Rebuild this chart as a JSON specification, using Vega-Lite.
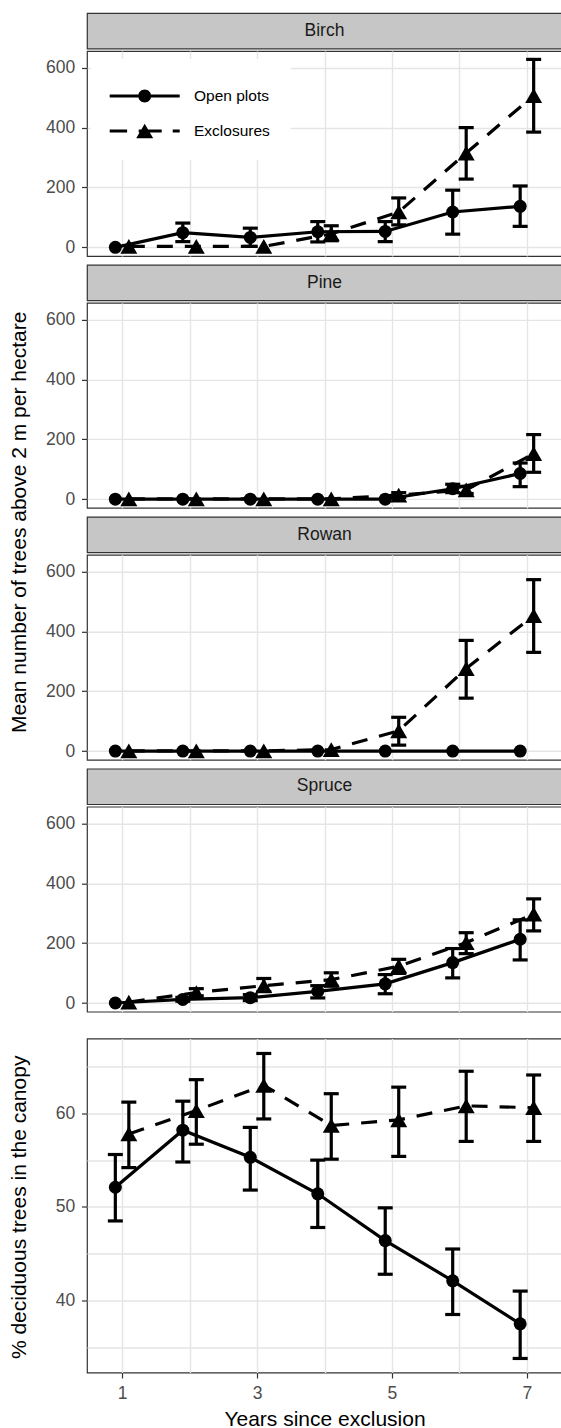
{
  "$schema": "https://vega.github.io/schema/vega-lite/v6.json",
  "padding": {"left": 8, "top": 12, "right": 0, "bottom": 0},
  "config": {
    "font": "Liberation Sans",
    "view": {"stroke": "#333333", "strokeWidth": 1.2},
    "axis": {"domain": false, "tickColor": "#333333", "tickWidth": 1.2, "tickSize": 5.5, "labelFont": "Liberation Sans", "labelFontSize": 17.5, "labelColor": "#4D4D4D", "labelPadding": 6.7, "titleFont": "Liberation Sans", "titleFontSize": 21, "titleFontWeight": "normal", "titleColor": "#000000", "gridColor": "#E5E5E5", "gridWidth": 1.4},
    "axisY": {"minExtent": 42}
  },
  "datasets": {
    "strips": [{"species": "Birch"}, {"species": "Pine"}, {"species": "Rowan"}, {"species": "Spruce"}],
    "trees": [
      {"species": "Birch", "group": "Open plots", "year": 1, "mean": 0, "lo": null, "hi": null},
      {"species": "Birch", "group": "Open plots", "year": 2, "mean": 49, "lo": 19, "hi": 81},
      {"species": "Birch", "group": "Open plots", "year": 3, "mean": 33, "lo": 3, "hi": 64},
      {"species": "Birch", "group": "Open plots", "year": 4, "mean": 52, "lo": 18, "hi": 86},
      {"species": "Birch", "group": "Open plots", "year": 5, "mean": 53, "lo": 19, "hi": 86},
      {"species": "Birch", "group": "Open plots", "year": 6, "mean": 118, "lo": 44, "hi": 191},
      {"species": "Birch", "group": "Open plots", "year": 7, "mean": 137, "lo": 70, "hi": 205},
      {"species": "Birch", "group": "Exclosures", "year": 1, "mean": 3, "lo": null, "hi": null},
      {"species": "Birch", "group": "Exclosures", "year": 2, "mean": 3, "lo": null, "hi": null},
      {"species": "Birch", "group": "Exclosures", "year": 3, "mean": 3, "lo": null, "hi": null},
      {"species": "Birch", "group": "Exclosures", "year": 4, "mean": 45, "lo": 22, "hi": 72},
      {"species": "Birch", "group": "Exclosures", "year": 5, "mean": 118, "lo": 75, "hi": 165},
      {"species": "Birch", "group": "Exclosures", "year": 6, "mean": 315, "lo": 228, "hi": 400},
      {"species": "Birch", "group": "Exclosures", "year": 7, "mean": 507, "lo": 385, "hi": 628},
      {"species": "Pine", "group": "Open plots", "year": 1, "mean": 0, "lo": null, "hi": null},
      {"species": "Pine", "group": "Open plots", "year": 2, "mean": 0, "lo": null, "hi": null},
      {"species": "Pine", "group": "Open plots", "year": 3, "mean": 0, "lo": null, "hi": null},
      {"species": "Pine", "group": "Open plots", "year": 4, "mean": 0, "lo": null, "hi": null},
      {"species": "Pine", "group": "Open plots", "year": 5, "mean": 0, "lo": null, "hi": null},
      {"species": "Pine", "group": "Open plots", "year": 6, "mean": 35, "lo": 22, "hi": 50},
      {"species": "Pine", "group": "Open plots", "year": 7, "mean": 86, "lo": 42, "hi": 121},
      {"species": "Pine", "group": "Exclosures", "year": 1, "mean": 1, "lo": null, "hi": null},
      {"species": "Pine", "group": "Exclosures", "year": 2, "mean": 1, "lo": null, "hi": null},
      {"species": "Pine", "group": "Exclosures", "year": 3, "mean": 1, "lo": null, "hi": null},
      {"species": "Pine", "group": "Exclosures", "year": 4, "mean": 1, "lo": null, "hi": null},
      {"species": "Pine", "group": "Exclosures", "year": 5, "mean": 14, "lo": 6, "hi": 22},
      {"species": "Pine", "group": "Exclosures", "year": 6, "mean": 31, "lo": 19, "hi": 43},
      {"species": "Pine", "group": "Exclosures", "year": 7, "mean": 152, "lo": 90, "hi": 216},
      {"species": "Rowan", "group": "Open plots", "year": 1, "mean": 0, "lo": null, "hi": null},
      {"species": "Rowan", "group": "Open plots", "year": 2, "mean": 0, "lo": null, "hi": null},
      {"species": "Rowan", "group": "Open plots", "year": 3, "mean": 0, "lo": null, "hi": null},
      {"species": "Rowan", "group": "Open plots", "year": 4, "mean": 0, "lo": null, "hi": null},
      {"species": "Rowan", "group": "Open plots", "year": 5, "mean": 0, "lo": null, "hi": null},
      {"species": "Rowan", "group": "Open plots", "year": 6, "mean": 0, "lo": null, "hi": null},
      {"species": "Rowan", "group": "Open plots", "year": 7, "mean": 0, "lo": null, "hi": null},
      {"species": "Rowan", "group": "Exclosures", "year": 1, "mean": 1, "lo": null, "hi": null},
      {"species": "Rowan", "group": "Exclosures", "year": 2, "mean": 1, "lo": null, "hi": null},
      {"species": "Rowan", "group": "Exclosures", "year": 3, "mean": 1, "lo": null, "hi": null},
      {"species": "Rowan", "group": "Exclosures", "year": 4, "mean": 5, "lo": null, "hi": null},
      {"species": "Rowan", "group": "Exclosures", "year": 5, "mean": 68, "lo": 20, "hi": 113},
      {"species": "Rowan", "group": "Exclosures", "year": 6, "mean": 276, "lo": 177, "hi": 370},
      {"species": "Rowan", "group": "Exclosures", "year": 7, "mean": 453, "lo": 330, "hi": 573},
      {"species": "Spruce", "group": "Open plots", "year": 1, "mean": 0, "lo": null, "hi": null},
      {"species": "Spruce", "group": "Open plots", "year": 2, "mean": 12, "lo": 6, "hi": 19},
      {"species": "Spruce", "group": "Open plots", "year": 3, "mean": 18, "lo": 8, "hi": 28},
      {"species": "Spruce", "group": "Open plots", "year": 4, "mean": 39, "lo": 17, "hi": 58},
      {"species": "Spruce", "group": "Open plots", "year": 5, "mean": 64, "lo": 31, "hi": 95},
      {"species": "Spruce", "group": "Open plots", "year": 6, "mean": 135, "lo": 84, "hi": 182},
      {"species": "Spruce", "group": "Open plots", "year": 7, "mean": 213, "lo": 144, "hi": 278},
      {"species": "Spruce", "group": "Exclosures", "year": 1, "mean": 3, "lo": null, "hi": null},
      {"species": "Spruce", "group": "Exclosures", "year": 2, "mean": 35, "lo": 24, "hi": 48},
      {"species": "Spruce", "group": "Exclosures", "year": 3, "mean": 58, "lo": 38, "hi": 82},
      {"species": "Spruce", "group": "Exclosures", "year": 4, "mean": 78, "lo": 56, "hi": 101},
      {"species": "Spruce", "group": "Exclosures", "year": 5, "mean": 123, "lo": 99, "hi": 146},
      {"species": "Spruce", "group": "Exclosures", "year": 6, "mean": 202, "lo": 165, "hi": 235},
      {"species": "Spruce", "group": "Exclosures", "year": 7, "mean": 297, "lo": 241, "hi": 348}
    ],
    "canopy": [
      {"group": "Open plots", "year": 1, "mean": 52.1, "lo": 48.5, "hi": 55.6},
      {"group": "Open plots", "year": 2, "mean": 58.2, "lo": 54.8, "hi": 61.3},
      {"group": "Open plots", "year": 3, "mean": 55.3, "lo": 51.8, "hi": 58.5},
      {"group": "Open plots", "year": 4, "mean": 51.4, "lo": 47.8, "hi": 55.0},
      {"group": "Open plots", "year": 5, "mean": 46.4, "lo": 42.8, "hi": 49.9},
      {"group": "Open plots", "year": 6, "mean": 42.1, "lo": 38.5, "hi": 45.5},
      {"group": "Open plots", "year": 7, "mean": 37.5, "lo": 33.8, "hi": 41.0},
      {"group": "Exclosures", "year": 1, "mean": 57.8, "lo": 54.2, "hi": 61.2},
      {"group": "Exclosures", "year": 2, "mean": 60.3, "lo": 56.7, "hi": 63.6},
      {"group": "Exclosures", "year": 3, "mean": 63.0, "lo": 59.4, "hi": 66.4},
      {"group": "Exclosures", "year": 4, "mean": 58.7, "lo": 55.1, "hi": 62.1},
      {"group": "Exclosures", "year": 5, "mean": 59.3, "lo": 55.4, "hi": 62.8},
      {"group": "Exclosures", "year": 6, "mean": 60.8, "lo": 57.0, "hi": 64.5},
      {"group": "Exclosures", "year": 7, "mean": 60.6, "lo": 57.0, "hi": 64.1}
    ]
  },
  "spacing": 24.5,
  "vconcat": [
    {
      "title": {"text": "Mean number of trees above 2 m per hectare", "orient": "left", "anchor": "middle", "fontSize": 21, "font": "Liberation Sans", "fontWeight": "normal", "color": "black", "offset": 14.6, "dx": -10},
      "spacing": 6.9,
      "vconcat": [
        {
          "spacing": 0,
          "vconcat": [
            {"width": 475, "height": 35.5, "data": {"name": "strips"}, "transform": [{"filter": "datum.species === 'Birch'"}], "mark": {"type": "text", "fontSize": 17.5, "color": "#1A1A1A", "font": "Liberation Sans", "align": "center", "baseline": "middle"}, "encoding": {"text": {"field": "species", "type": "nominal"}}, "view": {"fill": "#C6C6C6", "stroke": "#333333", "strokeWidth": 1.2}},
            {
              "width": 475, "height": 205,
              "data": {"name": "trees"},
              "transform": [{"filter": "datum.species === 'Birch'"}, {"calculate": "datum.year + (datum.group === 'Open plots' ? -0.1 : 0.1)", "as": "xpos"}],
              "encoding": {"x": {"field": "xpos", "type": "quantitative", "title": null, "scale": {"domain": [0.48, 7.52], "nice": false, "zero": false}, "axis": {"values": [1, 2, 3, 4, 5, 6, 7], "labels": false, "ticks": false, "grid": true}}},
              "layer": [
                {"transform": [{"filter": "datum.group === 'Open plots'"}], "mark": {"type": "line", "color": "black", "strokeWidth": 3.2}, "encoding": {
                  "y": {"field": "mean", "type": "quantitative", "title": null, "scale": {"domain": [-29, 656], "nice": false, "zero": false}, "axis": {"values": [0, 100, 200, 300, 400, 500, 600], "labelExpr": "datum.value % 200 === 0 ? datum.label : ''", "tickOpacity": {"condition": {"test": "datum.value % 200 !== 0", "value": 0}, "value": 1}, "grid": true}}}},
                {"transform": [{"filter": "datum.group === 'Exclosures'"}], "mark": {"type": "line", "color": "black", "strokeWidth": 3.2, "strokeDash": [16, 12]}, "encoding": {"y": {"field": "mean", "type": "quantitative", "title": null}}},
                {"mark": {"type": "rule", "color": "black", "strokeWidth": 3.2}, "encoding": {"y": {"field": "lo", "type": "quantitative", "title": null}, "y2": {"field": "hi"}}},
                {"mark": {"type": "tick", "orient": "horizontal", "color": "black", "thickness": 3.2, "size": 15, "opacity": 1}, "encoding": {"y": {"field": "lo", "type": "quantitative", "title": null}}},
                {"mark": {"type": "tick", "orient": "horizontal", "color": "black", "thickness": 3.2, "size": 15, "opacity": 1}, "encoding": {"y": {"field": "hi", "type": "quantitative", "title": null}}},
                {"transform": [{"filter": "datum.group === 'Open plots'"}], "mark": {"type": "point", "shape": "circle", "filled": true, "color": "black", "opacity": 1, "size": 169}, "encoding": {"y": {"field": "mean", "type": "quantitative", "title": null}}},
                {"transform": [{"filter": "datum.group === 'Exclosures'"}], "mark": {"type": "point", "shape": "triangle-up", "filled": true, "color": "black", "opacity": 1, "size": 289}, "encoding": {"y": {"field": "mean", "type": "quantitative", "title": null}}},
                {"mark": {"type": "point", "filled": true, "color": "black", "opacity": 1, "size": 0}, "encoding": {"y": {"field": "mean", "type": "quantitative", "title": null},
                  "shape": {"field": "group", "type": "nominal", "scale": {"domain": ["Open plots", "Exclosures"], "range": ["M-1.059,-0.094L3.059,-0.094L3.059,0.094L-1.059,0.094Z M0.618,0A0.382,0.382,0,0,1,1.382,0A0.382,0.382,0,0,1,0.618,0Z", "M-1.059,-0.094L-0.035,-0.094L-0.035,0.094L-1.059,0.094Z M0.647,-0.094L2,-0.094L2,0.094L0.647,0.094Z M2.647,-0.094L3.059,-0.094L3.059,0.094L2.647,0.094Z M1,-0.432L1.5,0.432L0.5,0.432Z"]},
                    "legend": {"title": null, "orient": "none", "legendX": 3.7, "legendY": 46, "fillColor": "white", "padding": 20, "symbolSize": 1156, "symbolOpacity": 1, "symbolFillColor": "black", "symbolStrokeColor": "black", "symbolStrokeWidth": 0, "labelFontSize": 15.5, "labelFont": "Liberation Sans", "labelColor": "black", "labelOffset": 49.3, "rowPadding": 9}}}}
              ]
            }
          ]
        },
        {
          "spacing": 0,
          "vconcat": [
            {"width": 475, "height": 35.5, "data": {"name": "strips"}, "transform": [{"filter": "datum.species === 'Pine'"}], "mark": {"type": "text", "fontSize": 17.5, "color": "#1A1A1A", "font": "Liberation Sans", "align": "center", "baseline": "middle"}, "encoding": {"text": {"field": "species", "type": "nominal"}}, "view": {"fill": "#C6C6C6", "stroke": "#333333", "strokeWidth": 1.2}},
            {
              "width": 475, "height": 205,
              "data": {"name": "trees"},
              "transform": [{"filter": "datum.species === 'Pine'"}, {"calculate": "datum.year + (datum.group === 'Open plots' ? -0.1 : 0.1)", "as": "xpos"}],
              "encoding": {"x": {"field": "xpos", "type": "quantitative", "title": null, "scale": {"domain": [0.48, 7.52], "nice": false, "zero": false}, "axis": {"values": [1, 2, 3, 4, 5, 6, 7], "labels": false, "ticks": false, "grid": true}}},
              "layer": [
                {"transform": [{"filter": "datum.group === 'Open plots'"}], "mark": {"type": "line", "color": "black", "strokeWidth": 3.2}, "encoding": {
                  "y": {"field": "mean", "type": "quantitative", "title": null, "scale": {"domain": [-29, 656], "nice": false, "zero": false}, "axis": {"values": [0, 100, 200, 300, 400, 500, 600], "labelExpr": "datum.value % 200 === 0 ? datum.label : ''", "tickOpacity": {"condition": {"test": "datum.value % 200 !== 0", "value": 0}, "value": 1}, "grid": true}}}},
                {"transform": [{"filter": "datum.group === 'Exclosures'"}], "mark": {"type": "line", "color": "black", "strokeWidth": 3.2, "strokeDash": [16, 12]}, "encoding": {"y": {"field": "mean", "type": "quantitative", "title": null}}},
                {"mark": {"type": "rule", "color": "black", "strokeWidth": 3.2}, "encoding": {"y": {"field": "lo", "type": "quantitative", "title": null}, "y2": {"field": "hi"}}},
                {"mark": {"type": "tick", "orient": "horizontal", "color": "black", "thickness": 3.2, "size": 15, "opacity": 1}, "encoding": {"y": {"field": "lo", "type": "quantitative", "title": null}}},
                {"mark": {"type": "tick", "orient": "horizontal", "color": "black", "thickness": 3.2, "size": 15, "opacity": 1}, "encoding": {"y": {"field": "hi", "type": "quantitative", "title": null}}},
                {"transform": [{"filter": "datum.group === 'Open plots'"}], "mark": {"type": "point", "shape": "circle", "filled": true, "color": "black", "opacity": 1, "size": 169}, "encoding": {"y": {"field": "mean", "type": "quantitative", "title": null}}},
                {"transform": [{"filter": "datum.group === 'Exclosures'"}], "mark": {"type": "point", "shape": "triangle-up", "filled": true, "color": "black", "opacity": 1, "size": 289}, "encoding": {"y": {"field": "mean", "type": "quantitative", "title": null}}}
              ]
            }
          ]
        },
        {
          "spacing": 0,
          "vconcat": [
            {"width": 475, "height": 35.5, "data": {"name": "strips"}, "transform": [{"filter": "datum.species === 'Rowan'"}], "mark": {"type": "text", "fontSize": 17.5, "color": "#1A1A1A", "font": "Liberation Sans", "align": "center", "baseline": "middle"}, "encoding": {"text": {"field": "species", "type": "nominal"}}, "view": {"fill": "#C6C6C6", "stroke": "#333333", "strokeWidth": 1.2}},
            {
              "width": 475, "height": 205,
              "data": {"name": "trees"},
              "transform": [{"filter": "datum.species === 'Rowan'"}, {"calculate": "datum.year + (datum.group === 'Open plots' ? -0.1 : 0.1)", "as": "xpos"}],
              "encoding": {"x": {"field": "xpos", "type": "quantitative", "title": null, "scale": {"domain": [0.48, 7.52], "nice": false, "zero": false}, "axis": {"values": [1, 2, 3, 4, 5, 6, 7], "labels": false, "ticks": false, "grid": true}}},
              "layer": [
                {"transform": [{"filter": "datum.group === 'Open plots'"}], "mark": {"type": "line", "color": "black", "strokeWidth": 3.2}, "encoding": {
                  "y": {"field": "mean", "type": "quantitative", "title": null, "scale": {"domain": [-29, 656], "nice": false, "zero": false}, "axis": {"values": [0, 100, 200, 300, 400, 500, 600], "labelExpr": "datum.value % 200 === 0 ? datum.label : ''", "tickOpacity": {"condition": {"test": "datum.value % 200 !== 0", "value": 0}, "value": 1}, "grid": true}}}},
                {"transform": [{"filter": "datum.group === 'Exclosures'"}], "mark": {"type": "line", "color": "black", "strokeWidth": 3.2, "strokeDash": [16, 12]}, "encoding": {"y": {"field": "mean", "type": "quantitative", "title": null}}},
                {"mark": {"type": "rule", "color": "black", "strokeWidth": 3.2}, "encoding": {"y": {"field": "lo", "type": "quantitative", "title": null}, "y2": {"field": "hi"}}},
                {"mark": {"type": "tick", "orient": "horizontal", "color": "black", "thickness": 3.2, "size": 15, "opacity": 1}, "encoding": {"y": {"field": "lo", "type": "quantitative", "title": null}}},
                {"mark": {"type": "tick", "orient": "horizontal", "color": "black", "thickness": 3.2, "size": 15, "opacity": 1}, "encoding": {"y": {"field": "hi", "type": "quantitative", "title": null}}},
                {"transform": [{"filter": "datum.group === 'Open plots'"}], "mark": {"type": "point", "shape": "circle", "filled": true, "color": "black", "opacity": 1, "size": 169}, "encoding": {"y": {"field": "mean", "type": "quantitative", "title": null}}},
                {"transform": [{"filter": "datum.group === 'Exclosures'"}], "mark": {"type": "point", "shape": "triangle-up", "filled": true, "color": "black", "opacity": 1, "size": 289}, "encoding": {"y": {"field": "mean", "type": "quantitative", "title": null}}}
              ]
            }
          ]
        },
        {
          "spacing": 0,
          "vconcat": [
            {"width": 475, "height": 35.5, "data": {"name": "strips"}, "transform": [{"filter": "datum.species === 'Spruce'"}], "mark": {"type": "text", "fontSize": 17.5, "color": "#1A1A1A", "font": "Liberation Sans", "align": "center", "baseline": "middle"}, "encoding": {"text": {"field": "species", "type": "nominal"}}, "view": {"fill": "#C6C6C6", "stroke": "#333333", "strokeWidth": 1.2}},
            {
              "width": 475, "height": 205,
              "data": {"name": "trees"},
              "transform": [{"filter": "datum.species === 'Spruce'"}, {"calculate": "datum.year + (datum.group === 'Open plots' ? -0.1 : 0.1)", "as": "xpos"}],
              "encoding": {"x": {"field": "xpos", "type": "quantitative", "title": null, "scale": {"domain": [0.48, 7.52], "nice": false, "zero": false}, "axis": {"values": [1, 2, 3, 4, 5, 6, 7], "labels": false, "ticks": false, "grid": true}}},
              "layer": [
                {"transform": [{"filter": "datum.group === 'Open plots'"}], "mark": {"type": "line", "color": "black", "strokeWidth": 3.2}, "encoding": {
                  "y": {"field": "mean", "type": "quantitative", "title": null, "scale": {"domain": [-29, 656], "nice": false, "zero": false}, "axis": {"values": [0, 100, 200, 300, 400, 500, 600], "labelExpr": "datum.value % 200 === 0 ? datum.label : ''", "tickOpacity": {"condition": {"test": "datum.value % 200 !== 0", "value": 0}, "value": 1}, "grid": true}}}},
                {"transform": [{"filter": "datum.group === 'Exclosures'"}], "mark": {"type": "line", "color": "black", "strokeWidth": 3.2, "strokeDash": [16, 12]}, "encoding": {"y": {"field": "mean", "type": "quantitative", "title": null}}},
                {"mark": {"type": "rule", "color": "black", "strokeWidth": 3.2}, "encoding": {"y": {"field": "lo", "type": "quantitative", "title": null}, "y2": {"field": "hi"}}},
                {"mark": {"type": "tick", "orient": "horizontal", "color": "black", "thickness": 3.2, "size": 15, "opacity": 1}, "encoding": {"y": {"field": "lo", "type": "quantitative", "title": null}}},
                {"mark": {"type": "tick", "orient": "horizontal", "color": "black", "thickness": 3.2, "size": 15, "opacity": 1}, "encoding": {"y": {"field": "hi", "type": "quantitative", "title": null}}},
                {"transform": [{"filter": "datum.group === 'Open plots'"}], "mark": {"type": "point", "shape": "circle", "filled": true, "color": "black", "opacity": 1, "size": 169}, "encoding": {"y": {"field": "mean", "type": "quantitative", "title": null}}},
                {"transform": [{"filter": "datum.group === 'Exclosures'"}], "mark": {"type": "point", "shape": "triangle-up", "filled": true, "color": "black", "opacity": 1, "size": 289}, "encoding": {"y": {"field": "mean", "type": "quantitative", "title": null}}}
              ]
            }
          ]
        }
      ]
    },
    {
      "title": {"text": "% deciduous trees in the canopy", "orient": "left", "anchor": "middle", "fontSize": 21, "font": "Liberation Sans", "fontWeight": "normal", "color": "black", "offset": 14.6, "dx": 26.5},
      "vconcat": [
        {
          "width": 475, "height": 334,
          "data": {"name": "canopy"},
          "transform": [{"calculate": "datum.year + (datum.group === 'Open plots' ? -0.1 : 0.1)", "as": "xpos"}],
          "encoding": {"x": {"field": "xpos", "type": "quantitative", "title": "Years since exclusion", "scale": {"domain": [0.48, 7.52], "nice": false, "zero": false}, "axis": {"values": [1, 2, 3, 4, 5, 6, 7], "labelExpr": "datum.value % 2 === 1 ? datum.label : ''", "tickOpacity": {"condition": {"test": "datum.value % 2 === 0", "value": 0}, "value": 1}, "grid": true, "titlePadding": 6}}},
          "layer": [
            {"transform": [{"filter": "datum.group === 'Open plots'"}], "mark": {"type": "line", "color": "black", "strokeWidth": 3.2}, "encoding": {
              "y": {"field": "mean", "type": "quantitative", "title": null, "scale": {"domain": [32.3, 68.0], "nice": false, "zero": false}, "axis": {"values": [35, 40, 45, 50, 55, 60, 65], "labelExpr": "datum.value % 10 === 0 ? datum.label : ''", "tickOpacity": {"condition": {"test": "datum.value % 10 !== 0", "value": 0}, "value": 1}, "grid": true}}}},
            {"transform": [{"filter": "datum.group === 'Exclosures'"}], "mark": {"type": "line", "color": "black", "strokeWidth": 3.2, "strokeDash": [16, 12]}, "encoding": {"y": {"field": "mean", "type": "quantitative", "title": null}}},
            {"mark": {"type": "rule", "color": "black", "strokeWidth": 3.2}, "encoding": {"y": {"field": "lo", "type": "quantitative", "title": null}, "y2": {"field": "hi"}}},
            {"mark": {"type": "tick", "orient": "horizontal", "color": "black", "thickness": 3.2, "size": 15, "opacity": 1}, "encoding": {"y": {"field": "lo", "type": "quantitative", "title": null}}},
            {"mark": {"type": "tick", "orient": "horizontal", "color": "black", "thickness": 3.2, "size": 15, "opacity": 1}, "encoding": {"y": {"field": "hi", "type": "quantitative", "title": null}}},
            {"transform": [{"filter": "datum.group === 'Open plots'"}], "mark": {"type": "point", "shape": "circle", "filled": true, "color": "black", "opacity": 1, "size": 169}, "encoding": {"y": {"field": "mean", "type": "quantitative", "title": null}}},
            {"transform": [{"filter": "datum.group === 'Exclosures'"}], "mark": {"type": "point", "shape": "triangle-up", "filled": true, "color": "black", "opacity": 1, "size": 289}, "encoding": {"y": {"field": "mean", "type": "quantitative", "title": null}}}
          ]
        }
      ]
    }
  ]
}
